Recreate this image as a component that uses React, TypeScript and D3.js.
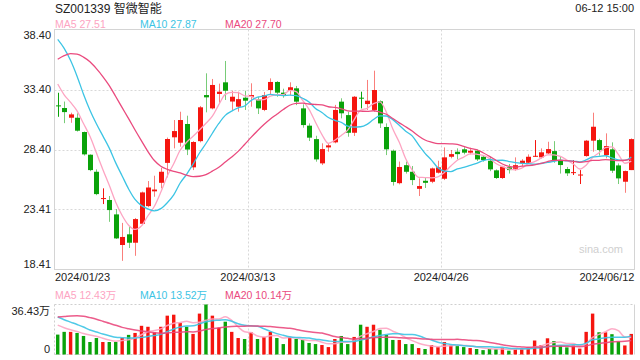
import React from "react";
import * as d3 from "d3";

// ---------- data ----------
const dates: string[] = [
  "2024/01/23","2024/01/24","2024/01/25","2024/01/26","2024/01/29","2024/01/30","2024/01/31",
  "2024/02/01","2024/02/02","2024/02/05","2024/02/06","2024/02/07","2024/02/08","2024/02/19","2024/02/20","2024/02/21","2024/02/22","2024/02/23","2024/02/26","2024/02/27","2024/02/28","2024/02/29",
  "2024/03/01","2024/03/04","2024/03/05","2024/03/06","2024/03/07","2024/03/08","2024/03/11","2024/03/12","2024/03/13","2024/03/14","2024/03/15","2024/03/18","2024/03/19","2024/03/20","2024/03/21","2024/03/22","2024/03/25","2024/03/26","2024/03/27","2024/03/28","2024/03/29",
  "2024/04/01","2024/04/02","2024/04/03","2024/04/08","2024/04/09","2024/04/10","2024/04/11","2024/04/12","2024/04/15","2024/04/16","2024/04/17","2024/04/18","2024/04/19","2024/04/22","2024/04/23","2024/04/24","2024/04/25","2024/04/26","2024/04/29","2024/04/30",
  "2024/05/06","2024/05/07","2024/05/08","2024/05/09","2024/05/10","2024/05/13","2024/05/14","2024/05/15","2024/05/16","2024/05/17","2024/05/20","2024/05/21","2024/05/22","2024/05/23","2024/05/24","2024/05/27","2024/05/28","2024/05/29","2024/05/30","2024/05/31",
  "2024/06/03","2024/06/04","2024/06/05","2024/06/06","2024/06/07","2024/06/11","2024/06/12",
];
const tickDates = ["2024/01/23", "2024/03/13", "2024/04/26", "2024/06/12"];

const opens = [32.08,31.86,31.05,31.05,29.86,27.97,26.55,24.30,24.20,23.00, 20.45,21.34,20.64,22.22,23.69,24.92,25.63,27.29,29.42,28.97, 30.53,26.92,29.10,32.94,31.83,33.03,34.00,32.40,31.97,32.72, 32.80,32.58,31.70,33.36,34.03,33.14,33.28,33.50,31.83,30.39, 29.27,27.25,28.58,29.00,32.39,31.27,29.80,32.72,32.19,31.70, 32.42,30.28,28.30,25.60,27.10,26.55,25.13,25.80,25.72,26.47, 25.97,27.80,28.22,28.42,28.14,28.30,27.80,27.47,26.67,26.03, 26.92,26.80,27.25,27.30,27.84,27.75,28.08,28.27,27.53,26.78, 26.48,26.28,27.86,29.14,29.19,27.94,28.42,27.08,25.72,26.69];
const closes = [32.00,31.52,31.33,29.97,28.00,26.69,24.69,24.36,23.36,21.00, 21.12,20.64,22.61,24.83,25.24,25.07,26.55,29.28,29.94,30.86, 28.40,29.03,31.92,32.75,33.78,33.22,33.30,32.80,32.60,32.47, 32.94,31.83,32.94,34.03,33.14,32.94,33.59,32.39,30.44,29.39, 27.58,28.44,28.75,31.70,31.42,29.80,32.80,32.67,32.47,33.36, 30.58,28.42,25.70,26.95,26.55,25.86,25.36,25.63,26.83,26.92, 27.75,28.02,28.02,28.14,28.30,27.58,27.53,26.75,26.03,26.97, 26.69,27.10,27.47,27.80,27.88,28.17,28.44,27.53,27.11,26.42, 26.52,26.32,29.14,30.30,28.36,28.69,26.64,26.00,26.61,29.27];
const highs = [33.13,32.40,31.47,31.42,29.90,28.00,26.75,25.17,24.53,23.44, 22.29,22.00,22.70,24.90,25.78,26.22,26.88,29.40,30.86,31.55, 31.22,29.10,32.03,34.75,34.28,33.89,35.78,33.30,33.22,33.30, 33.92,32.80,33.20,34.33,34.10,33.47,34.00,33.70,32.17,30.58, 29.55,28.92,28.92,32.12,32.67,31.55,32.86,33.22,34.20,34.97, 32.50,30.58,28.40,27.40,27.40,27.03,26.00,26.10,26.90,27.47, 28.58,28.36,28.50,28.60,28.55,28.40,27.95,27.80,26.75,27.05, 27.20,27.75,27.60,28.00,29.19,28.50,29.05,29.10,27.80,26.95, 27.53,26.69,29.20,31.47,29.30,29.75,29.00,27.25,26.65,29.33];
const lows = [31.13,30.60,30.63,29.90,27.90,26.60,24.60,23.86,22.38,20.95, 19.13,20.20,19.55,22.13,23.60,24.47,25.17,26.08,28.50,28.64, 27.94,26.69,29.00,31.50,31.75,32.30,32.53,31.70,31.55,31.70, 31.97,31.36,31.60,32.94,32.80,32.72,32.94,32.10,30.22,29.11, 27.39,27.11,28.22,28.92,31.00,29.47,29.53,31.83,31.70,31.55, 30.20,27.94,25.40,25.50,26.40,25.44,24.53,25.20,25.60,26.40, 25.86,27.67,27.58,28.00,28.00,27.45,27.40,26.60,25.95,25.95, 26.40,26.64,27.00,27.20,27.80,27.65,28.03,27.30,26.40,26.20, 26.28,25.53,27.80,28.22,27.90,27.67,26.45,25.53,24.80,26.69];
// closes of the 19 sessions before the window (for moving averages)
const prevCloses = [25.5,28.0,30.8,33.0,34.5,36.0,37.5,38.5,39.2,39.6, 39.0,41.5,43.0,43.0,40.0,36.0,34.5,33.5,33.3];

// volume, in 万 shares
const volumes = [14.5,16.5,16.5,15.7,13.5,9.1,12.0,9.1,9.1,9.1, 12.0,14.3,15.7,20.9,20.2,16.2,20.2,28.3,29.0,23.1, 20.2,15.0,29.8,36.43,28.3,19.4,23.9,16.5,12.0,11.3, 16.2,11.3,12.8,16.5,12.0,7.6,12.8,11.3,10.6,8.4, 7.6,6.9,5.4,11.3,13.5,7.6,12.8,21.7,20.2,21.7, 18.0,14.3,10.6,10.6,7.6,7.6,4.7,4.0,6.9,5.4, 9.1,6.9,6.1,5.4,4.7,4.0,3.2,4.0,4.0,4.7, 2.8,4.0,4.7,5.4,10.2,6.9,11.8,9.8,6.5,5.2, 6.5,4.3,16.5,29.8,16.2,16.2,14.8,9.6,6.6,15.0];
const prevVolumes = [10,8,12,20,30,35,38,40,38,42, 36,34,33,32,31,26,24,22,20.5];

const priceTicks = ["18.41", "23.41", "28.40", "33.40", "38.40"];
const priceDomain = [18.41, 38.40];
const volMax = 36.43;
const volTicks = ["0", "36.43万"];

const maPeriods = [5, 10, 20];
const maNames = ["MA5", "MA10", "MA20"];
const maPriceLegend = ["27.51", "27.87", "27.70"];
const maVolLegend = ["12.43万", "13.52万", "10.14万"];
const maColors = ["#fda4c2", "#3cc4e4", "#ea4a7e"];

const title = "SZ001339 智微智能";
const timeStamp = "06-12 15:00";

// ---------- layout ----------
const L = 54.5, R = 634.5;
const MT = 29.5, MB = 269.5;
const VT = 304.5, VB = 354.5;
const UP = "#f5150f";
const DOWN = "#0aa20a";
const FONT = "Arial, 'Liberation Sans', 'Noto Sans CJK SC', sans-serif";

function movingAvg(prev: number[], vals: number[], n: number): number[] {
  const full = prev.concat(vals);
  const off = prev.length;
  return vals.map((_, i) => d3.mean(full.slice(off + i - n + 1, off + i + 1)) as number);
}

export default function App() {
  const N = dates.length;
  const x = d3.scaleBand<string>().domain(dates).range([L, R]).padding(0);
  const bw = x.bandwidth();
  const cx = (i: number) => (x(dates[i]) as number) + bw / 2;
  const y = d3.scaleLinear().domain(priceDomain).range([MB, MT]);
  const yv = d3.scaleLinear().domain([0, volMax]).range([VB, VT]);

  const priceMA = maPeriods.map((n) => movingAvg(prevCloses, closes, n));
  const volMA = maPeriods.map((n) => movingAvg(prevVolumes, volumes, n));
  const line = (sc: d3.ScaleLinear<number, number>) =>
    d3.line<number>().x((_, i) => cx(i)).y((d) => sc(d)).curve(d3.curveMonotoneX);

  const gridV = tickDates.slice(1, 3).map((d) => Math.round(x(d) as number) + 0.5);

  return (
    <svg width={640} height={360} style={{ position: "absolute", left: 0, top: 0, background: "#fff" }} fontFamily={FONT}>
      <rect x={0} y={0} width={640} height={360} fill="#fff" />
      {/* title */}
      <text x={55} y={12.5} fontSize={12} fill="#222">{title}</text>
      <text x={634} y={12} fontSize={11} fill="#222" textAnchor="end">{timeStamp}</text>
      {/* price MA legend */}
      {maNames.map((nm, k) => (
        <text key={nm} x={55 + k * 85} y={27.5} fontSize={10.5} fill={maColors[k]}>{`${nm} ${maPriceLegend[k]}`}</text>
      ))}

      {/* main panel grid */}
      {priceTicks.slice(1, 4).map((t) => {
        const yy = Math.round(y(+t)) + 0.5;
        return <line key={t} x1={L} x2={R} y1={yy} y2={yy} stroke="#d8d8d8" strokeDasharray="2,2" />;
      })}
      {gridV.map((gx) => (
        <line key={"v" + gx} x1={gx} x2={gx} y1={MT} y2={MB} stroke="#d8d8d8" strokeDasharray="2,2" />
      ))}
      <rect x={L} y={MT} width={R - L} height={MB - MT} fill="none" stroke="#d4d4d4" />

      {/* y labels */}
      {priceTicks.map((t) => {
        const yy = Math.min(Math.max(y(+t), MT + 6), MB - 5.5);
        return (
          <text key={t} x={51} y={yy} dy="0.35em" fontSize={11} fill="#222" textAnchor="end">{t}</text>
        );
      })}

      {/* candles */}
      {dates.map((d, i) => {
        const up = closes[i] >= opens[i];
        const col = up ? UP : DOWN;
        const xc = Math.round(cx(i));
        const yo = y(opens[i]);
        const yc = y(closes[i]);
        const top = Math.min(yo, yc);
        const h = Math.max(Math.abs(yo - yc), 1);
        const doji = Math.abs(yo - yc) < 1.2;
        return (
          <g key={d}>
            <line x1={xc + 0.5} x2={xc + 0.5} y1={y(highs[i])} y2={y(lows[i])} stroke={col} strokeOpacity={doji ? 1 : 0.55} />
            <rect x={xc - 2} y={top} width={5} height={h} fill={col} />
          </g>
        );
      })}

      {/* price MA lines */}
      {priceMA.map((arr, k) => (
        <path key={"pm" + k} d={line(y)(arr) as string} fill="none" stroke={maColors[k]} strokeWidth={1.3} />
      ))}

      {/* watermark */}
      <text x={623} y={253} fontSize={11} fill="#cfcfcf" textAnchor="end">sina.com</text>

      {/* date labels */}
      {tickDates.map((d, k) => {
        const anchor = k === 0 ? "start" : k === tickDates.length - 1 ? "end" : "middle";
        const xx = k === 0 ? L + 0.5 : k === tickDates.length - 1 ? R : (x(d) as number);
        return (
          <text key={d} x={xx} y={281} fontSize={11} fill="#222" textAnchor={anchor}>{d}</text>
        );
      })}

      {/* volume MA legend */}
      {maNames.map((nm, k) => (
        <text key={"vl" + nm} x={55 + k * 85} y={299} fontSize={10.5} fill={maColors[k]}>{`${nm} ${maVolLegend[k]}`}</text>
      ))}

      {/* volume panel frame */}
      <line x1={L} x2={R} y1={VT} y2={VT} stroke="#cfcfcf" strokeDasharray="2,2" />
      <line x1={L} x2={R} y1={VB} y2={VB} stroke="#cfcfcf" strokeDasharray="2,2" />
      <line x1={L} x2={L} y1={VT} y2={VB} stroke="#cfcfcf" strokeDasharray="2,2" />
      <line x1={R} x2={R} y1={VT} y2={VB} stroke="#d4d4d4" />
      {gridV.map((gx) => (
        <line key={"vv" + gx} x1={gx} x2={gx} y1={VT} y2={VB} stroke="#d8d8d8" strokeDasharray="2,2" />
      ))}
      {volTicks.map((t, k) => (
        <text key={t} x={50} y={k === 0 ? VB - 5.5 : VT + 7} dy="0.35em" fontSize={11} fill="#222" textAnchor="end">{t}</text>
      ))}

      {/* volume bars */}
      {dates.map((d, i) => {
        const up = closes[i] >= opens[i];
        return (
          <rect key={"vb" + d} x={cx(i) - 1.7} y={yv(volumes[i])} width={3.4} height={VB - yv(volumes[i])} fill={up ? UP : DOWN} />
        );
      })}
      {volMA.map((arr, k) => (
        <path key={"vm" + k} d={line(yv)(arr) as string} fill="none" stroke={maColors[k]} strokeWidth={1.5} strokeOpacity={0.9} />
      ))}
    </svg>
  );
}
